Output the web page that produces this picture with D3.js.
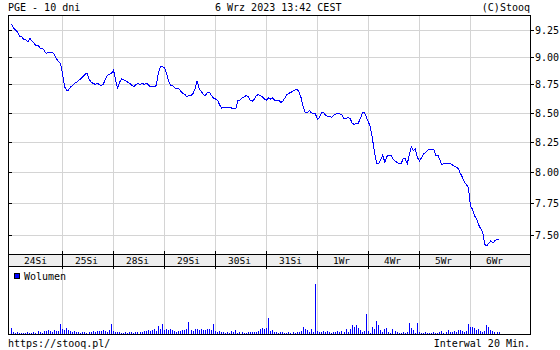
<!DOCTYPE html>
<html><head><meta charset="utf-8">
<script src="https://cdn.jsdelivr.net/npm/d3@7"></script>
<style>
html,body{margin:0;padding:0;background:#fff;}
svg{display:block;}
text{font-family:"DejaVu Sans Mono",monospace;fill:#000;}
</style></head>
<body>
<svg id="c" width="560" height="350"></svg>
<script>
// ---- data ----
const title = "PGE - 10 dni";
const stamp = "6 Wrz 2023 13:42 CEST";
const credit = "(C)Stooq";
const footerLeft = "https://stooq.pl/";
const footerRight = "Interwal 20 Min.";
const volumeLabel = "Wolumen";
const days = ["24Si","25Si","28Si","29Si","30Si","31Si","1Wr","4Wr","5Wr","6Wr"];
const barsPerDay = 25;
const yTicks = [7.50,7.75,8.00,8.25,8.50,8.75,9.00,9.25];

// closing prices per 20-min bar (PLN)
const price_24Si = [9.31,9.27,9.25,9.23,9.19,9.19,9.16,9.16,9.14,9.17,9.15,9.13,9.10,9.11,9.08,9.08,9.06,9.03,9.04,9.04,9.04,9.02,8.98,8.96,8.94];
const price_25Si = [8.85,8.73,8.70,8.70,8.73,8.74,8.76,8.77,8.79,8.80,8.82,8.84,8.85,8.80,8.77,8.76,8.75,8.76,8.75,8.74,8.75,8.80,8.83,8.84,8.85];
const price_28Si = [8.88,8.79,8.72,8.77,8.80,8.79,8.78,8.77,8.76,8.74,8.73,8.75,8.76,8.75,8.76,8.75,8.76,8.75,8.73,8.73,8.73,8.74,8.85,8.91,8.91];
const price_29Si = [8.90,8.85,8.78,8.74,8.74,8.72,8.71,8.71,8.69,8.67,8.66,8.64,8.65,8.65,8.67,8.71,8.78,8.71,8.69,8.66,8.65,8.68,8.68,8.65,8.63];
const price_30Si = [8.62,8.61,8.57,8.54,8.55,8.55,8.55,8.55,8.54,8.54,8.54,8.61,8.61,8.63,8.64,8.65,8.64,8.61,8.60,8.62,8.65,8.66,8.65,8.64,8.62];
const price_31Si = [8.61,8.63,8.62,8.63,8.61,8.61,8.61,8.59,8.60,8.63,8.66,8.67,8.68,8.69,8.70,8.71,8.68,8.63,8.55,8.50,8.50,8.52,8.50,8.49,8.49];
const price_1Wr  = [8.44,8.46,8.50,8.50,8.48,8.47,8.47,8.46,8.48,8.49,8.49,8.49,8.48,8.45,8.45,8.46,8.45,8.41,8.40,8.41,8.41,8.45,8.50,8.50,8.46];
const price_4Wr  = [8.42,8.37,8.27,8.16,8.07,8.07,8.10,8.14,8.08,8.13,8.14,8.14,8.11,8.09,8.08,8.07,8.07,8.11,8.11,8.07,8.14,8.21,8.18,8.19,8.12];
const price_5Wr  = [8.09,8.12,8.15,8.16,8.18,8.19,8.19,8.19,8.14,8.14,8.10,8.06,8.07,8.07,8.07,8.07,8.06,8.05,8.04,8.03,7.99,7.96,7.92,7.90,7.87];
const price_6Wr  = [7.73,7.70,7.65,7.63,7.58,7.55,7.52,7.43,7.42,7.44,7.46,7.44,7.46,7.47,7.47];

// volume per 20-min bar (thousand shares)
const vol_24Si = [90,30,20,25,15,20,15,20,25,15,20,30,20,40,30,20,45,40,55,45,35,55,45,40,150];
const vol_25Si = [75,60,90,60,45,30,45,30,30,20,30,30,20,30,30,45,30,45,45,45,60,45,30,60,150];
const vol_28Si = [45,30,30,30,20,20,30,20,30,30,20,30,30,30,30,45,45,60,45,60,75,45,120,75,150];
const vol_29Si = [60,75,60,75,60,45,30,45,45,60,60,75,180,60,45,75,75,60,75,60,60,75,75,60,150];
const vol_30Si = [45,30,45,30,30,20,30,20,45,30,60,20,30,30,20,20,30,30,30,30,30,45,75,90,75];
const vol_31Si = [90,240,45,60,30,30,20,30,30,20,20,30,20,30,20,30,30,45,105,75,60,30,75,30,735];
const vol_1Wr  = [45,30,30,45,30,45,30,20,30,30,45,30,45,30,75,30,75,135,105,135,90,60,30,45,300];
const vol_4Wr  = [45,20,105,75,195,135,60,30,75,90,30,20,75,45,30,20,20,30,20,30,165,90,60,20,165];
const vol_5Wr  = [30,20,20,30,20,20,20,30,20,20,30,45,20,30,60,30,30,45,30,60,60,45,30,45,150];
const vol_6Wr  = [105,105,90,60,75,45,30,45,135,105,60,45,30,30,30];

const prices = [].concat(price_24Si,price_25Si,price_28Si,price_29Si,price_30Si,price_31Si,price_1Wr,price_4Wr,price_5Wr,price_6Wr);
const volumes = [].concat(vol_24Si,vol_25Si,vol_28Si,vol_29Si,vol_30Si,vol_31Si,vol_1Wr,vol_4Wr,vol_5Wr,vol_6Wr);

// ---- layout ----
const L = 8, R = 530, T = 15, MB = 254, BB = 266, VB = 334;
const svg = d3.select("#c");
const x = d3.scaleLinear().domain([0, days.length*barsPerDay]).range([11.5, 521.5]);
const y = d3.scaleLog().domain([7.5, 9.25]).range([235.3, 30]);
const vy = d3.scaleLinear().domain([0, 1000]).range([VB, BB]);
const px = v => Math.floor(v) + 0.5;
const py = v => Math.round(v) + 0.5;

const grid = "#d4d4d4";
const g = svg.append("g").attr("shape-rendering","crispEdges");

// band
g.append("rect").attr("x",L).attr("y",MB).attr("width",R-L).attr("height",BB-MB).attr("fill","#eeeeee");

// vertical gridlines (main + volume)
const bounds = d3.range(1, days.length).map(d => d*barsPerDay);
g.selectAll("line.vg").data(bounds).join("line")
  .attr("x1",d=>px(x(d))).attr("x2",d=>px(x(d))).attr("y1",T).attr("y2",MB).attr("stroke",grid);
g.selectAll("line.vg2").data(bounds).join("line")
  .attr("x1",d=>px(x(d))).attr("x2",d=>px(x(d))).attr("y1",BB).attr("y2",VB).attr("stroke",grid);

// horizontal gridlines
g.selectAll("line.hg").data(yTicks).join("line")
  .attr("x1",L).attr("x2",R).attr("y1",d=>py(y(d))).attr("y2",d=>py(y(d))).attr("stroke",grid);

// volume bars
g.selectAll("rect.v").data(volumes).join("rect")
  .attr("x",(d,i)=>Math.floor(x(i))).attr("width",1)
  .attr("y",d=>Math.round(vy(d))).attr("height",d=>VB-Math.round(vy(d)))
  .attr("fill","#0000ff");

// price line
const line = d3.line().x((d,i)=>x(i)).y(d=>y(d));
svg.append("path").datum(prices).attr("d",line).attr("fill","none")
  .attr("stroke","#0000ff").attr("stroke-width",1).attr("shape-rendering","crispEdges");

// frame
const fr = svg.append("g").attr("stroke","#000").attr("shape-rendering","crispEdges");
fr.append("line").attr("x1",L).attr("x2",R+1).attr("y1",T+0.5).attr("y2",T+0.5);
fr.append("line").attr("x1",L+0.5).attr("x2",L+0.5).attr("y1",T).attr("y2",VB+1);
fr.append("line").attr("x1",R+0.5).attr("x2",R+0.5).attr("y1",T).attr("y2",VB+1);
fr.append("line").attr("x1",L).attr("x2",R+1).attr("y1",MB+0.5).attr("y2",MB+0.5);
fr.append("line").attr("x1",L).attr("x2",R+1).attr("y1",BB+0.5).attr("y2",BB+0.5);
fr.append("line").attr("x1",L).attr("x2",R+1).attr("y1",VB+0.5).attr("y2",VB+0.5);
// y ticks
yTicks.forEach(t=>{
  const yy = py(y(t));
  fr.append("line").attr("x1",L).attr("x2",L+4).attr("y1",yy).attr("y2",yy);
  fr.append("line").attr("x1",R).attr("x2",R+4).attr("y1",yy).attr("y2",yy);
});
// x ticks at day boundaries
bounds.forEach(b=>{
  const xx = px(x(b));
  fr.append("line").attr("x1",xx).attr("x2",xx).attr("y1",MB-3).attr("y2",BB+3);
});

// y labels
svg.selectAll("text.yl").data(yTicks).join("text")
  .attr("x",R+5).attr("y",d=>py(y(d))).attr("dy","0.35em")
  .attr("font-size",10).text(d=>d3.format(".2f")(d));

// x labels
svg.selectAll("text.xl").data(days).join("text")
  .attr("x",(d,i)=>(x(i*barsPerDay)+x((i+1)*barsPerDay))/2 - 1.5)
  .attr("y",264).attr("text-anchor","middle").attr("font-size",9.5).text(d=>d);

// header & footer
svg.append("text").attr("x",L).attr("y",11).attr("font-size",10).text(title);
svg.append("text").attr("x",215).attr("y",11).attr("font-size",10).text(stamp);
svg.append("text").attr("x",R).attr("y",11).attr("text-anchor","end").attr("font-size",10).text(credit);
svg.append("text").attr("x",L).attr("y",347).attr("font-size",10).text(footerLeft);
svg.append("text").attr("x",R).attr("y",347).attr("text-anchor","end").attr("font-size",10).text(footerRight);

// legend
svg.append("rect").attr("x",14.5).attr("y",273.5).attr("width",5).attr("height",5)
  .attr("fill","#0000ff").attr("stroke","#000").attr("shape-rendering","crispEdges");
svg.append("text").attr("x",24).attr("y",280).attr("font-size",10).text(volumeLabel);
</script>
</body></html>
